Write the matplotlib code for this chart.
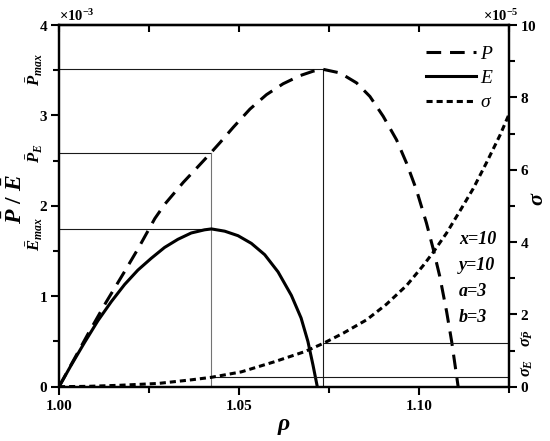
import matplotlib
matplotlib.use('Agg')
import matplotlib.pyplot as plt
from matplotlib.ticker import MultipleLocator, FormatStrFormatter
from matplotlib.lines import Line2D

# curvas (rho, valores en unidades x1e-3 y x1e-5)
rho_p = [1.000, 1.004, 1.008, 1.013, 1.018, 1.022, 1.0266, 1.0294, 1.0345, 1.0385,
         1.042, 1.0447, 1.0484, 1.053, 1.0576, 1.0622, 1.0669, 1.0706, 1.0733, 1.078,
         1.0826, 1.0863, 1.090, 1.0937, 1.0965, 1.0992, 1.102, 1.1039, 1.1057, 1.1076,
         1.109, 1.1108]
p_vals = [0.00, 0.29, 0.58, 0.93, 1.26, 1.53, 1.86, 2.02, 2.26, 2.43,
          2.58, 2.70, 2.87, 3.07, 3.23, 3.35, 3.44, 3.49, 3.51, 3.47,
          3.36, 3.21, 2.99, 2.73, 2.47, 2.18, 1.81, 1.52, 1.22, 0.83,
          0.50, 0.00]

rho_e = [1.000, 1.0034, 1.0071, 1.0108, 1.0145, 1.0182, 1.0219, 1.0256, 1.0293, 1.0330,
         1.0367, 1.0404, 1.0423, 1.0460, 1.0497, 1.0534, 1.0571, 1.0608, 1.0645, 1.0672,
         1.0691, 1.0705, 1.0717]
e_vals = [0.00, 0.24, 0.49, 0.73, 0.94, 1.13, 1.29, 1.42, 1.54, 1.63,
          1.70, 1.735, 1.745, 1.72, 1.67, 1.585, 1.46, 1.27, 1.01, 0.76,
          0.50, 0.24, 0.00]

rho_s = [1.000, 1.008, 1.017, 1.0275, 1.0367, 1.0423, 1.0506, 1.0598, 1.0682, 1.0734,
         1.0789, 1.0854, 1.0909, 1.0965, 1.1011, 1.1039, 1.1076, 1.1113, 1.1150, 1.1187,
         1.1224, 1.1250]
s_vals = [0.00, 0.01, 0.04, 0.09, 0.19, 0.26, 0.41, 0.69, 0.97, 1.20,
          1.48, 1.85, 2.28, 2.80, 3.35, 3.72, 4.25, 4.86, 5.48, 6.20,
          6.95, 7.55]

# puntos caracteristicos
rho_emax = 1.0423
rho_pmax = 1.0733
p_max = 3.51
p_e = 2.58
e_max = 1.745
sig_e = 0.26
sig_p = 1.20

params = ['x=10', 'y=10', 'a=3', 'b=3']

plt.rcParams['font.family'] = 'Liberation Serif'
plt.rcParams['font.weight'] = 'bold'
plt.rcParams['mathtext.fontset'] = 'custom'
plt.rcParams['mathtext.rm'] = 'Liberation Serif:bold'
plt.rcParams['mathtext.it'] = 'Liberation Serif:italic:bold'
plt.rcParams['mathtext.bf'] = 'Liberation Serif:bold'

fig = plt.figure(figsize=(5.5, 4.41), dpi=100)
ax = fig.add_axes([0.1073, 0.1231, 0.8187, 0.8202])
ax2 = ax.twinx()

k3 = 1e-3
k5 = 1e-5
lw = 2.2

# lineas de referencia
ax.plot([1.0, rho_pmax, rho_pmax], [p_max * k3, p_max * k3, 0], color='0.1', lw=0.8)
ax.plot([1.0, rho_emax], [p_e * k3, p_e * k3], color='0.1', lw=0.8)
ax.plot([1.0, rho_emax], [e_max * k3, e_max * k3], color='0.1', lw=0.8)
ax.plot([rho_emax, rho_emax], [0, p_e * k3], color='0.45', lw=0.8)
ax2.plot([rho_emax, 1.125], [sig_e * k5, sig_e * k5], color='0.1', lw=0.8)
ax2.plot([rho_pmax, 1.125], [sig_p * k5, sig_p * k5], color='0.1', lw=0.8)

ax.plot(rho_p, [v * k3 for v in p_vals], color='k', lw=lw, dashes=(4.8, 2.9))
ax.plot(rho_e, [v * k3 for v in e_vals], color='k', lw=lw, solid_joinstyle='round')
ax2.plot(rho_s, [v * k5 for v in s_vals], color='k', lw=lw, dashes=(2.0, 1.3))

ax.set_xlim(1.0, 1.125)
ax.set_ylim(0, 4e-3)
ax2.set_ylim(0, 10e-5)

ax.xaxis.set_major_locator(MultipleLocator(0.05))
ax.xaxis.set_minor_locator(MultipleLocator(0.025))
ax.xaxis.set_major_formatter(FormatStrFormatter('%.2f'))
ax.yaxis.set_major_locator(MultipleLocator(1e-3))
ax.yaxis.set_minor_locator(MultipleLocator(0.5e-3))
ax2.yaxis.set_major_locator(MultipleLocator(2e-5))
ax2.yaxis.set_minor_locator(MultipleLocator(1e-5))
ax.ticklabel_format(axis='y', style='sci', scilimits=(-3, -3), useMathText=True)
ax2.ticklabel_format(axis='y', style='sci', scilimits=(-5, -5), useMathText=True)
ax.yaxis.get_offset_text().set_fontsize(10.5)
ax2.yaxis.get_offset_text().set_fontsize(10.5)
ax2.yaxis.get_offset_text().set_x(1.02)

for a in (ax, ax2):
    a.tick_params(which='major', direction='out', length=6, width=1.5, labelsize=11)
    a.tick_params(which='minor', direction='out', length=4, width=1.5)
    for s in a.spines.values():
        s.set_linewidth(1.6)
ax2.tick_params(axis='y', which='both', pad=2)
ax.tick_params(axis='y', which='both', pad=2)

top = ax.secondary_xaxis('top')
top.xaxis.set_major_locator(MultipleLocator(0.05))
top.xaxis.set_minor_locator(MultipleLocator(0.025))
top.tick_params(which='both', direction='in', length=5, width=1.5, labeltop=False)
top.spines['top'].set_linewidth(1.6)

ax.set_xlabel(r'$\rho$', fontsize=17, labelpad=2)
ax.set_ylabel(r'$\bar{P}\ /\ \bar{E}$', fontsize=17)
ax.yaxis.set_label_coords(-0.07, 0.52)
ax2.set_ylabel(r'$\sigma$', fontsize=16)
ax2.yaxis.set_label_coords(1.043, 0.52)

ytr = ax.get_yaxis_transform()
ax.text(-0.053, p_max * k3, r'$\bar{P}_{max}$', transform=ytr, rotation=90,
        ha='center', va='center', fontsize=12)
ax.text(-0.053, p_e * k3, r'$\bar{P}_{E}$', transform=ytr, rotation=90,
        ha='center', va='center', fontsize=12)
ax.text(-0.053, (e_max - 0.06) * k3, r'$\bar{E}_{max}$', transform=ytr, rotation=90,
        ha='center', va='center', fontsize=12)
ax.text(1.039, 0.052, r'$\sigma_E$', transform=ax.transAxes, rotation=90,
        ha='center', va='center', fontsize=12)
ax.text(1.039, 0.135, r'$\sigma_{\bar{P}}$', transform=ax.transAxes, rotation=90,
        ha='center', va='center', fontsize=12)

for i, t in enumerate(params):
    ax.text(0.888, 0.406 - i * 0.072, t, transform=ax.transAxes, ha='left',
            va='center', fontsize=13, style='italic', weight='bold')

handles = [Line2D([], [], color='k', lw=lw, dashes=(4.8, 2.9)),
           Line2D([], [], color='k', lw=lw),
           Line2D([], [], color='k', lw=lw, dashes=(2.0, 1.3))]
ax.legend(handles, ['P', 'E', 'σ'], loc='upper right', bbox_to_anchor=(0.962, 0.945),
          frameon=False, handlelength=2.6, handletextpad=0.2, labelspacing=0.35,
          borderpad=0, borderaxespad=0,
          prop=dict(family='Liberation Serif', style='italic', weight='normal', size=14))

fig.savefig('out.png', dpi=100)
